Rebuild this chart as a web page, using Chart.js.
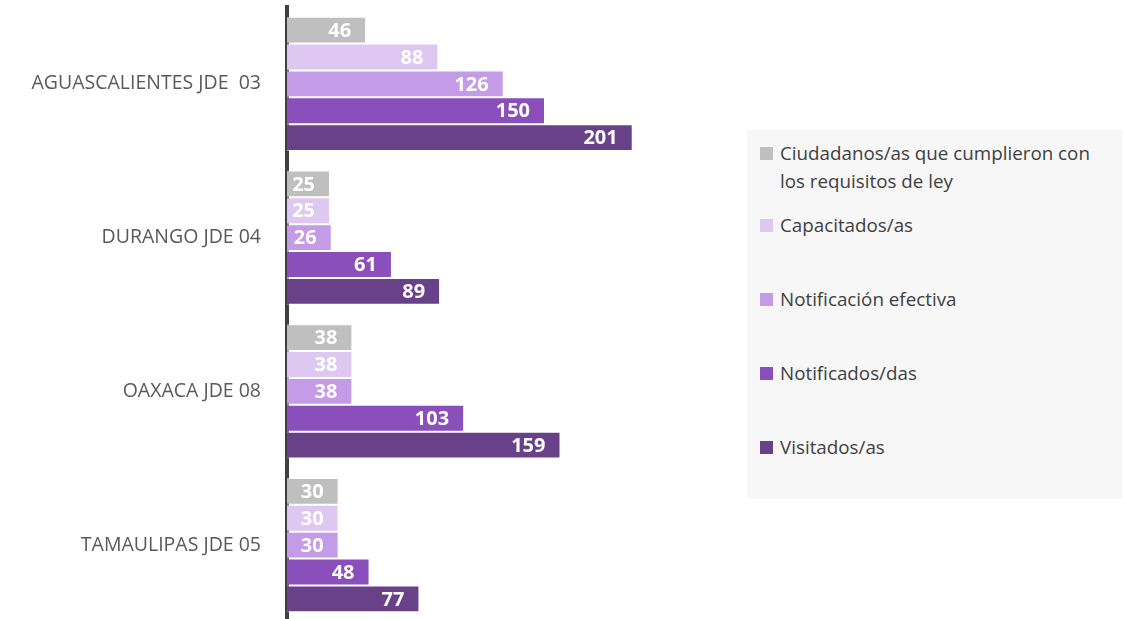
<!DOCTYPE html>
<html lang="es">
<head>
<meta charset="utf-8">
<script src="https://cdn.jsdelivr.net/npm/chart.js@4.4.1/dist/chart.umd.min.js"></script>
<style>
  html, body { margin: 0; padding: 0; background: #ffffff; overflow: hidden; }
  #wrap { position: relative; width: 1123px; height: 619px; overflow: hidden; }
  #chart { position: absolute; left: 0; top: 0; }
  #legend {
    position: absolute; left: 747px; top: 130px; width: 375px; height: 369px;
    background: #f7f7f7; box-sizing: border-box; padding: 9px 0 0 13px;
    font-family: "Open Sans", sans-serif; font-size: 18.8px; color: #404040;
  }
  .item { display: flex; align-items: flex-start; line-height: 28px; margin-bottom: 46px; }
  .item:first-child { margin-bottom: 16px; }
  .item span:last-child { max-width: 320px; }
  .sw { flex: 0 0 13px; height: 13px; margin: 8px 7px 0 0; }
</style>
</head>
<body>
<div id="wrap">
  <canvas id="chart" width="1123" height="622"></canvas>
  <div id="legend"></div>
</div>
<script>
// Juntas distritales
const categories = [
  'AGUASCALIENTES JDE  03',
  'DURANGO JDE 04',
  'OAXACA JDE 08',
  'TAMAULIPAS JDE 05'
];

// Series, one value per junta
const cumplieron   = [46, 25, 38, 30];
const capacitados  = [88, 25, 38, 30];
const notifEfect   = [126, 26, 38, 30];
const notificados  = [150, 61, 103, 48];
const visitados    = [201, 89, 159, 77];

const seriesNames = [
  'Ciudadanos/as que cumplieron con los requisitos de ley',
  'Capacitados/as',
  'Notificación efectiva',
  'Notificados/das',
  'Visitados/as'
];
const seriesColors = ['#bfbfbf', '#dec8f1', '#c39be6', '#8a4fbb', '#684189'];
const seriesValues = [cumplieron, capacitados, notifEfect, notificados, visitados];

const datasets = seriesValues.map((vals, i) => ({
  label: seriesNames[i],
  data: vals,
  backgroundColor: seriesColors[i],
  borderColor: 'rgba(255,255,255,0.55)',
  borderWidth: 1,
  borderSkipped: 'start',
  categoryPercentage: 0.873,
  barPercentage: 1.0
}));

// Value labels written inside the end of each bar
const endLabels = {
  id: 'endLabels',
  afterDatasetsDraw(chart) {
    const ctx = chart.ctx;
    ctx.save();
    ctx.font = 'bold 20px "Open Sans", sans-serif';
    ctx.fillStyle = '#ffffff';
    ctx.textAlign = 'right';
    ctx.textBaseline = 'middle';
    chart.data.datasets.forEach((ds, di) => {
      chart.getDatasetMeta(di).data.forEach((bar, i) => {
        ctx.fillText(String(ds.data[i]), bar.x - 15, bar.y + 1);
      });
    });
    ctx.restore();
  }
};

new Chart(document.getElementById('chart'), {
  type: 'bar',
  data: { labels: categories, datasets },
  options: {
    indexAxis: 'y',
    responsive: false,
    animation: false,
    layout: { padding: { top: 7, right: 406, bottom: 0, left: 0 } },
    plugins: {
      legend: { display: false },
      tooltip: { enabled: false }
    },
    scales: {
      x: { display: false, min: 0, max: 250 },
      y: {
        afterFit(scale) {
          scale.width = 287;
          scale.paddingTop = 0;
          scale.paddingBottom = 0;
        },
        grid: { display: false, drawTicks: false },
        border: { display: true, color: '#404040', width: 4 },
        ticks: {
          color: '#595959',
          padding: 26,
          font: { family: '"Open Sans", sans-serif', size: 19.5 }
        }
      }
    }
  },
  plugins: [endLabels]
});

// Legend built from the same series
const legend = document.getElementById('legend');
seriesNames.forEach((name, i) => {
  const item = document.createElement('div');
  item.className = 'item';
  const sw = document.createElement('span');
  sw.className = 'sw';
  sw.style.background = seriesColors[i];
  const tx = document.createElement('span');
  tx.textContent = name;
  item.appendChild(sw);
  item.appendChild(tx);
  legend.appendChild(item);
});
</script>
</body>
</html>
